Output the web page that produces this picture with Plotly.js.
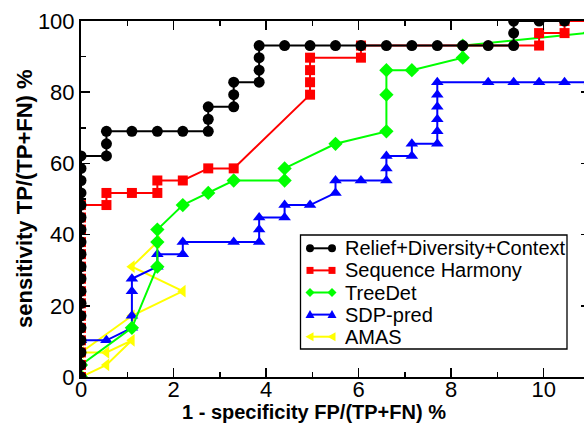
<!DOCTYPE html>
<html>
<head>
<meta charset="utf-8">
<script src="https://cdn.plot.ly/plotly-3.0.1.min.js"></script>
<style>
html,body{margin:0;padding:0;background:#fff;overflow:hidden;}
#chart{width:600px;height:423px;}
</style>
</head>
<body>
<div id="chart"></div>
<script>
// ---- data (1 - specificity %, sensitivity %) ----
const seriesNames = ['Relief+Diversity+Context','Sequence Harmony','TreeDet','SDP-pred','AMAS'];

const rdcX = [0,0,0,0,0,0,0,0,0,0,0,0,0,0,0,0,0,0,0,
  0.55,0.55,0.55,1.1,1.65,2.2,2.75,2.75,2.75,3.3,3.3,3.3,3.85,3.85,3.85,3.85,
  4.4,4.95,5.5,6.05,6.6,7.15,7.7,8.25,8.8,9.35,9.35,9.35,9.9,10.45];
const rdcY = [0,3.4,6.9,10.3,13.8,17.2,20.7,24.1,27.6,31.0,34.5,37.9,41.4,44.8,48.3,51.7,55.2,58.6,62.1,
  62.1,65.5,69.0,69.0,69.0,69.0,69.0,72.4,75.9,75.9,79.3,82.8,82.8,86.2,89.7,93.1,
  93.1,93.1,93.1,93.1,93.1,93.1,93.1,93.1,93.1,93.1,96.6,100,100,100];

const shX = [0,0,0,0,0,0,0,0,0,0,0,0,0,0,0,
  0.55,0.55,1.1,1.65,1.65,2.2,2.75,3.3,4.95,4.95,4.95,4.95,6.05,6.05,9.9,9.9,10.45,10.45,11.0];
const shY = [0,3.4,6.9,10.3,13.8,17.2,20.7,24.1,27.6,31.0,34.5,37.9,41.4,44.8,48.3,
  48.3,51.7,51.7,51.7,55.2,55.2,58.6,58.6,79.3,82.8,86.2,89.7,89.7,93.1,93.1,96.6,96.6,100,100];

const tdX = [0,0,1.1,1.65,1.65,1.65,2.2,2.75,3.3,4.4,4.4,5.5,6.6,6.6,6.6,7.15,8.25,8.25,11.0];
const tdY = [0,3.4,13.8,31.0,37.9,41.4,48.3,51.7,55.2,55.2,58.6,65.5,69.0,79.3,86.2,86.2,89.7,93.1,96.7];

const sdpX = [0,0,0.55,1.1,1.1,1.1,1.1,1.65,1.65,2.2,2.2,3.3,3.85,3.85,3.85,4.4,4.4,4.95,
  5.5,5.5,6.05,6.6,6.6,6.6,7.15,7.15,7.7,7.7,7.7,7.7,7.7,7.7,8.8,9.35,9.9,10.45,11.0];
const sdpY = [0,10.3,10.3,13.8,17.2,24.1,27.6,31.0,34.5,34.5,37.9,37.9,37.9,41.4,44.8,44.8,48.3,48.3,
  51.7,55.2,55.2,55.2,58.6,62.1,62.1,65.5,65.5,69.0,72.4,75.9,79.3,82.8,82.8,82.8,82.8,82.8,82.8];

const amasX = [0,0.55,1.1,0.55,0,1.1,2.2,1.1,1.65];
const amasY = [0,3.4,10.3,6.9,6.9,17.2,24.1,31.0,37.9];

const xTickVals = [0,2,4,6,8,10];
const yTickVals = [0,20,40,60,80,100];

// ---- styles ----
const FONT = 'Liberation Sans, Arial, Helvetica, sans-serif';
const styles = [
  {color:'#000000', symbol:'circle', size:11},
  {color:'#ff0000', symbol:'square', size:10},
  {color:'#00ff00', symbol:'diamond', size:11},
  {color:'#0000ff', symbol:'triangle-up', size:11},
  {color:'#ffff00', symbol:'triangle-left', size:11}
];
const xs = [rdcX, shX, tdX, sdpX, amasX];
const ys = [rdcY, shY, tdY, sdpY, amasY];

// draw order: AMAS, SDP, TreeDet, SeqHarmony, RDC (black on top)
const order = [4,3,2,1,0];
const traces = order.map(i => ({
  type:'scatter', mode:'lines+markers', name: seriesNames[i],
  x: xs[i], y: ys[i],
  line:{color:styles[i].color, width:2},
  marker:{color:styles[i].color, symbol:styles[i].symbol, size:styles[i].size, line:{width:0}},
  showlegend:false, cliponaxis:true
}));

// geometry helpers (pixel -> paper) for custom legend
const W = 600, H = 423, ML = 81, MR = 10, MT = 21, MB = 46;
const PW = W-ML-MR, PH = H-MT-MB;
const px = p => (p-ML)/PW;
const py = p => (H-MB-p)/PH;

const shapes = [];
const annotations = [];
// legend box
shapes.push({type:'rect', xref:'paper', yref:'paper', x0:px(300.5), x1:px(567), y0:py(349), y1:py(235),
  line:{color:'#000', width:1.3}, fillcolor:'#fff', layer:'above'});
const legPaths = {
  'circle': null,
  'square': 'M -3.5,-3.5 L 3.5,-3.5 L 3.5,3.5 L -3.5,3.5 Z',
  'diamond': 'M 0,-4.5 L 4.5,0 L 0,4.5 L -4.5,0 Z',
  'triangle-up': 'M -4.5,-3.5 L 4.5,-3.5 L 0,4.5 Z',
  'triangle-left': 'M 3.5,-4.5 L 3.5,4.5 L -4.5,0 Z'
};
for (let i=0;i<5;i++){
  const yc = 248.3 + 22.1*i;
  const st = styles[i];
  shapes.push({type:'line', xref:'paper', yref:'paper', x0:px(310), x1:px(332), y0:py(yc), y1:py(yc),
    line:{color:st.color, width:2}, layer:'above'});
  [310,332].forEach(cx => {
    const base = {xref:'paper', yref:'paper', xsizemode:'pixel', ysizemode:'pixel',
      xanchor:px(cx), yanchor:py(yc), fillcolor:st.color, line:{width:0}, layer:'above'};
    if (st.symbol==='circle') {
      shapes.push(Object.assign(base,{type:'circle', x0:-4, x1:4, y0:-4, y1:4}));
    } else {
      shapes.push(Object.assign(base,{type:'path', path:legPaths[st.symbol]}));
    }
  });
  annotations.push({xref:'paper', yref:'paper', x:px(343), y:py(yc), xanchor:'left', yanchor:'middle',
    text:seriesNames[i], showarrow:false, font:{family:FONT, size:20, color:'#000'}});
}
// axis titles
annotations.push({xref:'paper', yref:'paper', x:px(313.5), y:py(412), xanchor:'center', yanchor:'middle',
  text:'1 - specificity FP/(TP+FN) %', showarrow:false,
  font:{family:FONT, size:20, color:'#000', weight:'bold'}});
annotations.push({xref:'paper', yref:'paper', x:px(24), y:0.5, xanchor:'center', yanchor:'middle',
  textangle:-90, text:'sensitivity TP/(TP+FN) %', showarrow:false,
  font:{family:FONT, size:22, color:'#000', weight:'bold'}});

const axisCommon = {
  showgrid:false, zeroline:false, showline:true, linecolor:'#000', linewidth:2,
  mirror:'ticks', ticks:'inside', ticklen:9, tickwidth:1.5, tickcolor:'#000',
  tickfont:{family:FONT, size:22, color:'#000'}
};
const layout = {
  width:W, height:H, margin:{l:ML, r:MR, t:MT, b:MB, pad:0},
  paper_bgcolor:'#fff', plot_bgcolor:'#fff', showlegend:false,
  xaxis: Object.assign({}, axisCommon, {range:[0,11], tickmode:'array', tickvals:xTickVals,
    ticktext:xTickVals.map(String), ticklabelstandoff:-8,
    minor:{dtick:1, tick0:0, ticks:'inside', ticklen:5, tickwidth:1.5, tickcolor:'#000'}}),
  yaxis: Object.assign({}, axisCommon, {range:[0,100], tickmode:'array', tickvals:yTickVals,
    ticktext:yTickVals.map(String),
    minor:{dtick:10, tick0:0, ticks:'inside', ticklen:5, tickwidth:1.5, tickcolor:'#000'}}),
  shapes: shapes, annotations: annotations
};
Plotly.newPlot('chart', traces, layout, {staticPlot:true, displayModeBar:false});
</script>
</body>
</html>
